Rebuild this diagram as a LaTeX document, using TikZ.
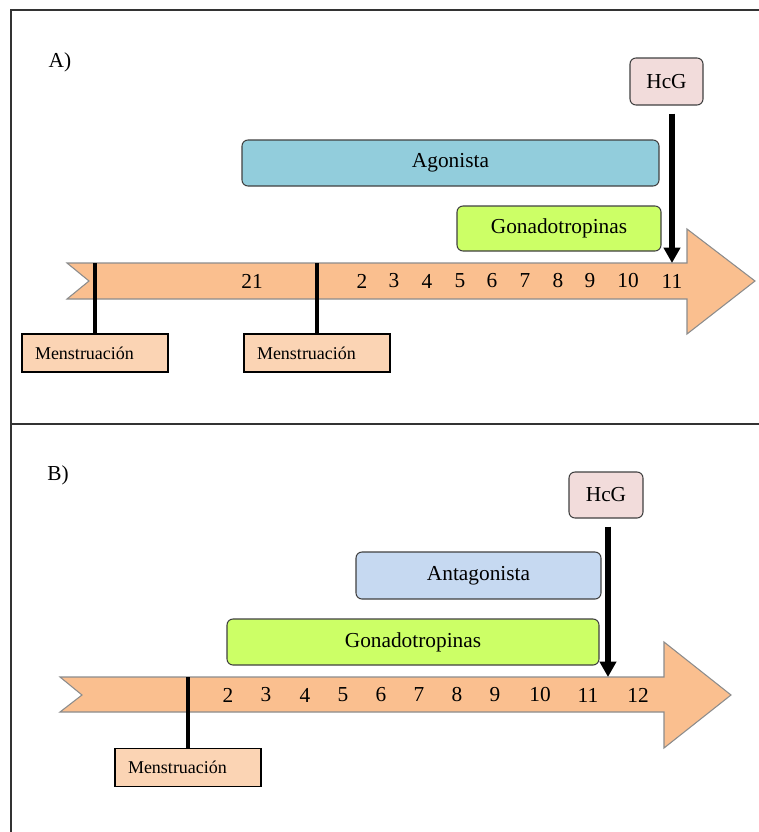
\documentclass[tikz,border=0pt]{standalone}
\usepackage{fontspec}
\setmainfont{Liberation Serif}
\usetikzlibrary{arrows.meta}
\definecolor{cam}{HTML}{FABF8F}
\definecolor{camnhat}{HTML}{FBD4B4}
\definecolor{xanhngoc}{HTML}{92CDDC}
\definecolor{xanhla}{HTML}{CCFF66}
\definecolor{xanhnhat}{HTML}{C6D9F1}
\definecolor{hong}{HTML}{F2DCDB}

\begin{document}
\begin{tikzpicture}[x=0.75pt,y=-0.75pt,
		khung/.style={draw=black!80,line width=1.3pt},
		truc/.style={fill=cam,draw=black!45,line width=0.8pt},
		hop/.style={draw=black!75,line width=0.8pt,rounded corners=4.5pt,font=\fontsize{16}{19}\selectfont},
		kinh/.style={draw=black,fill=camnhat,line width=0.9pt,text width=90pt,inner xsep=9.75pt,align=left,minimum height=28.5pt,font=\fontsize{13.5}{16}\selectfont},
		so/.style={font=\fontsize{16}{19}\selectfont},
		vach/.style={line width=2.6pt},
		muiten/.style={line width=4.5pt,-{Triangle[width=12pt,length=11.5pt]}}]
			\useasboundingbox (0,0) rectangle (759,832);
			% Vẽ khung
			\draw[khung] (759,10) -- (11,10) -- (11,832);
			\draw[khung] (11,424) -- (759,424);
			
			% Hình A
			\node[so] (nhanA) at (60,62) {A)};
			\draw[truc] (67,263) -- (687,263) -- (687,229) -- (755,281) -- (687,334) -- (687,299) -- (67,299) -- (89,281) -- cycle;
			\foreach \n/\x in {21/252,2/362,3/394,4/427,5/460,6/492,7/525,8/558,9/590,10/628,11/672}
			\node[so] (soA\n) at (\x,281) {\n};
			\node[hop,fill=xanhngoc,minimum width=312.75pt,minimum height=34.5pt] (agonista) at (450.5,163) {Agonista};
			\node[hop,fill=xanhla,minimum width=153pt,minimum height=33.75pt] (gonaA) at (559,228.5) {Gonadotropinas};
			\node[hop,fill=hong,minimum width=54.75pt,minimum height=35.25pt] (hcgA) at (666.5,81.5) {HcG};
			\node[kinh] (kinhA1) at (95,353) {Menstruación};
			\node[kinh] (kinhA2) at (317,353) {Menstruación};
			\coordinate (vachA1) at (95,263);
			\coordinate (vachA2) at (317,263);
			\coordinate (tiemA) at (672,263);
			\draw[vach] (vachA1) -- (kinhA1.north);
			\draw[vach] (vachA2) -- (kinhA2.north);
			\draw[muiten] ([yshift=-6pt]hcgA.south -| tiemA) -- (tiemA);
			
			% Hình B
			\node[so] (nhanB) at (58,475) {B)};
			\draw[truc] (60,677) -- (664,677) -- (664,642) -- (731,695) -- (664,748) -- (664,712) -- (60,712) -- (82,695) -- cycle;
			\foreach \n/\x in {2/228,3/266,4/305,5/343,6/381,7/419,8/457,9/495,10/540,11/588,12/638}
			\node[so] (soB\n) at (\x,695) {\n};
			\node[hop,fill=xanhnhat,minimum width=183.75pt,minimum height=35.25pt] (antagonista) at (478.5,575.5) {Antagonista};
			\node[hop,fill=xanhla,minimum width=279pt,minimum height=34.5pt] (gonaB) at (413,642) {Gonadotropinas};
			\node[hop,fill=hong,minimum width=55.5pt,minimum height=34.5pt] (hcgB) at (606,495) {HcG};
			\node[kinh] (kinhB) at (188,767.5) {Menstruación};
			\coordinate (vachB) at (188,677);
			\coordinate (tiemB) at (608,677);
			\draw[vach] (vachB) -- (kinhB.north);
			\draw[muiten] ([yshift=-6pt]hcgB.south -| tiemB) -- (tiemB);
		\end{tikzpicture}
\end{document}
